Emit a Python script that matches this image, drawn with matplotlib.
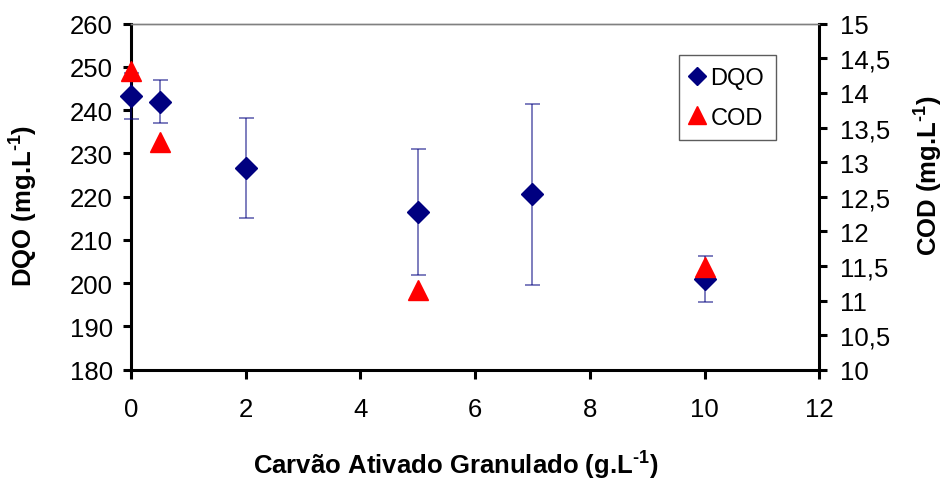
import numpy as np
import matplotlib
matplotlib.use('Agg')
import matplotlib.pyplot as plt
from matplotlib.ticker import FuncFormatter

plt.rcParams['font.family'] = ['Liberation Sans', 'DejaVu Sans']
plt.rcParams['mathtext.fontset'] = 'custom'
plt.rcParams['mathtext.rm'] = 'Liberation Sans'
plt.rcParams['mathtext.bf'] = 'Liberation Sans:bold'

# Data
x_dqo = [0, 0.5, 2, 5, 7, 10]
dqo = [243.2, 242.0, 226.7, 216.5, 220.6, 200.9]
dqo_err = [5.3, 5.0, 11.6, 14.5, 20.9, 5.3]

x_cod = [0, 0.5, 5, 10]
cod = [14.31, 13.29, 11.15, 11.49]

fs = 18.5
sup = r'$^{\mathbf{' + '\u2010' + r'1}}$'

W, H = 943, 481
fig = plt.figure(figsize=(W / 100, H / 100), dpi=100)
ax = fig.add_axes([0.1389, 0.2293, 0.7299, 0.7193])
ax2 = ax.twinx()

# DQO with error bars
ax.errorbar(x_dqo, dqo, yerr=dqo_err, fmt='none', ecolor='#000080', alpha=0.55,
            elinewidth=1.3, capsize=5.4, capthick=1.3, clip_on=False, zorder=3)
h1, = ax.plot(x_dqo, dqo, linestyle='none', marker='D', markersize=10.7,
              color='#000080', clip_on=False, zorder=4, label='DQO')

# COD on right axis
h2, = ax2.plot(x_cod, cod, linestyle='none', marker='^', markersize=15,
               color='#FF0000', clip_on=False, zorder=4, label='COD')

ax.set_xlim(0, 12)
ax.set_ylim(180, 260)
ax.set_xticks(np.arange(0, 13, 2))
ax.set_yticks(np.arange(180, 261, 10))
ax2.set_ylim(10, 15)
ax2.set_yticks(np.arange(10, 15.01, 0.5))
ax2.yaxis.set_major_formatter(FuncFormatter(lambda v, p: ('%g' % v).replace('.', ',')))

for a in (ax, ax2):
    for s in a.spines.values():
        s.set_linewidth(2.2)
        s.set_color('black')
    a.spines['top'].set_linewidth(1.0)
    a.spines['top'].set_color('#808080')
ax2.spines['left'].set_visible(False)
ax2.spines['bottom'].set_visible(False)
ax.spines['right'].set_visible(False)

ax.tick_params(axis='x', direction='out', length=6.5, width=2.2, labelsize=fs, pad=13)
ax.tick_params(axis='y', direction='out', length=6, width=2.2, labelsize=fs, pad=7)
ax2.tick_params(axis='y', direction='out', length=6, width=2.2, labelsize=fs, pad=9)

# axis titles placed in figure pixels
fig.text(456 / W, 1 - 474 / H, 'Carvão Ativado Granulado (g.L' + sup + ')',
         fontsize=fs, fontweight='bold', ha='center', va='baseline')
fig.text(23 / W, 1 - 206 / H, 'DQO (mg.L' + sup + ')', rotation=90,
         fontsize=fs, fontweight='bold', ha='center', va='center')
fig.text(928 / W, 1 - 176 / H, 'COD (mg.L' + sup + ')', rotation=90,
         fontsize=fs, fontweight='bold', ha='center', va='center')

leg = fig.legend([h1, h2], ['DQO', 'COD'], loc='upper right',
                 bbox_to_anchor=(776 / W, 1 - 56 / H), bbox_transform=fig.transFigure,
                 fontsize=17, frameon=True, fancybox=False, edgecolor='#333333',
                 borderaxespad=0, borderpad=0.5, labelspacing=0.75, handletextpad=0.25,
                 handlelength=0.6, markerscale=0.84)
leg.get_frame().set_linewidth(1.0)

fig.savefig('out.png', dpi=100)
